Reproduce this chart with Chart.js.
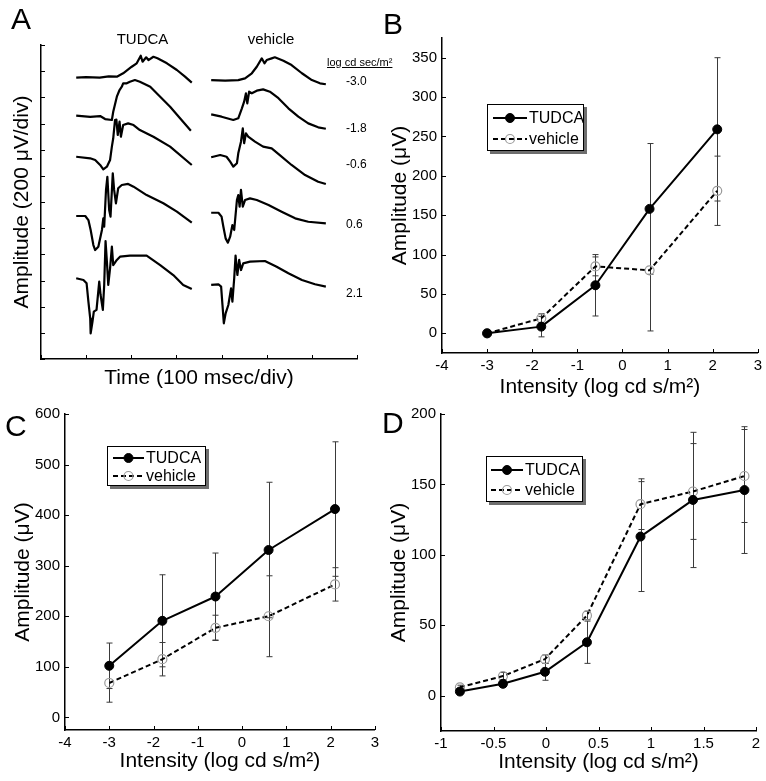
<!DOCTYPE html>
<html>
<head>
<meta charset="utf-8">
<script src="https://cdn.jsdelivr.net/npm/chart.js@4.4.1/dist/chart.umd.min.js"></script>
<style>
body { margin: 0; background: #fff; }
#page { position: relative; width: 766px; height: 781px; overflow: hidden; font-family: "Liberation Sans", Arial, sans-serif; }
canvas { position: absolute; }
.lbl { position: absolute; white-space: nowrap; line-height: 1; color: #000; }
</style>
</head>
<body>
<div id="page">
  <canvas id="chartA" width="383" height="395" style="left:0;top:0"></canvas>
  <canvas id="chartB" width="383" height="400" style="left:383px;top:0"></canvas>
  <canvas id="chartC" width="383" height="391" style="left:0;top:390px"></canvas>
  <canvas id="chartD" width="383" height="391" style="left:383px;top:390px"></canvas>
</div>
<script>
// panel A: ERG traces, [time ms, amplitude µV] (stacked, 200 µV/div)
const traceIntensities = ['-3.0', '-1.8', '-0.6', '0.6', '2.1']
const tudcaTraces = [
    [[78,2150],[100,2155],[130,2150],[150,2160],[168,2158],[182,2184],[201,2234],[212,2260],[221,2318],[225,2272],[233,2306],[238,2285],[249,2310],[258,2298],[279,2260],[301,2209],[319,2158],[334,2112]],
    [[78,1860],[109,1850],[131,1857],[142,1834],[157,1827],[160,1890],[168,2005],[174,2056],[179,2081],[182,2107],[190,2107],[197,2119],[208,2132],[219,2119],[242,2081],[264,2005],[286,1928],[308,1840],[332,1745]],
    [[78,1546],[109,1534],[120,1521],[131,1483],[138,1450],[146,1470],[153,1521],[157,1623],[160,1687],[164,1827],[167,1830],[170,1712],[174,1814],[177,1699],[182,1788],[193,1801],[205,1788],[219,1750],[249,1699],[286,1623],[334,1483]],
    [[78,1093],[98,1093],[105,1062],[110,986],[116,871],[120,833],[127,858],[135,986],[138,1075],[140,1011],[144,1292],[147,1393],[151,1139],[154,1088],[159,1419],[162,1292],[166,1190],[171,1305],[179,1330],[193,1338],[205,1317],[234,1253],[271,1190],[301,1126],[334,1042]],
    [[78,617],[94,604],[101,579],[105,438],[109,311],[110,196],[114,285],[117,362],[123,375],[129,591],[132,489],[137,375],[140,566],[143,902],[146,744],[149,566],[153,693],[157,860],[160,718],[168,757],[175,782],[197,790],[234,790],[264,718],[293,642],[315,566],[334,535]]
]
const vehicleTraces = [
    [[377,2132],[408,2127],[437,2132],[452,2145],[467,2184],[478,2234],[489,2298],[495,2260],[500,2285],[511,2298],[518,2306],[537,2280],[555,2247],[578,2184],[600,2132],[618,2107],[631,2100]],
    [[377,1870],[400,1852],[426,1827],[437,1840],[445,1916],[450,1967],[454,2031],[457,1954],[461,2043],[467,2031],[478,2051],[492,2061],[507,2043],[526,1993],[548,1916],[570,1852],[592,1801],[614,1771],[631,1760]],
    [[377,1542],[397,1559],[411,1546],[419,1508],[426,1470],[434,1496],[437,1572],[443,1661],[447,1763],[450,1649],[454,1725],[459,1699],[474,1661],[492,1623],[511,1610],[529,1559],[555,1483],[585,1406],[614,1355],[631,1338]],
    [[377,1118],[393,1118],[400,1088],[404,1011],[409,922],[414,889],[419,935],[424,1024],[428,986],[434,1215],[437,1253],[440,1164],[443,1292],[447,1164],[452,1215],[463,1228],[478,1215],[504,1177],[533,1126],[563,1075],[592,1049],[631,1037]],
    [[377,566],[393,571],[399,553],[402,413],[405,273],[409,349],[415,413],[421,540],[424,438],[428,617],[431,791],[435,642],[439,757],[443,680],[448,731],[463,744],[496,749],[522,705],[548,655],[578,604],[607,571],[631,553]]
]
const ticksA_x = [0, 100, 200, 300, 400, 500, 600, 700]
const ticksA_y = [0, 200, 400, 600, 800, 1000, 1200, 1400, 1600, 1800, 2000, 2200, 2400]

// panels B and C: intensity (log cd s/m2) vs amplitude (µV)
const intensityBC = [-3, -1.8, -0.6, 0.6, 2.1]
const tudcaB = [0, 8.5, 61, 158, 259]
const tudcaBErr = [2, 13, 39, 83, 91]
const vehicleB = [0, 19, 85, 80, 181]
const vehicleBErr = [2, 6, 12, 77, 44]
const tudcaC = [102, 191, 239, 331, 412]
const tudcaCErr = [45, 91, 86, 134, 133]
const vehicleC = [68, 115, 177, 200, 263]
const vehicleCErr = [38, 33, 25, 80, 33]

// panel D
const intensityD = [-0.82, -0.41, -0.01, 0.39, 0.9, 1.4, 1.89]
const tudcaD = [3, 8.5, 17, 38, 113, 139, 146]
const tudcaDErr = [1.5, 2, 6, 15, 39, 48, 45]
const vehicleD = [6, 14, 26, 57, 136, 145, 156]
const vehicleDErr = [1.5, 2.5, 3, 3, 18, 34, 33]

const ticksBC_x = [-4, -3, -2, -1, 0, 1, 2, 3]
const ticksB_y = [0, 50, 100, 150, 200, 250, 300, 350]
const ticksC_y = [0, 100, 200, 300, 400, 500, 600]
const ticksD_x = [-1, -0.5, 0, 0.5, 1, 1.5, 2]
const ticksD_y = [0, 50, 100, 150, 200]

const FONT = '"Liberation Sans", Arial, sans-serif'
Chart.defaults.font.family = FONT
Chart.defaults.color = '#000'

// error bars drawn behind the markers
const errorBars = {
    id: 'errorBars',
    beforeDatasetsDraw(chart) {
        const ctx = chart.ctx
        const xs = chart.scales.x, ys = chart.scales.y
        chart.data.datasets.forEach(ds => {
            if (!ds.errors) return
            ctx.save()
            ctx.strokeStyle = '#3a3a3a'
            ctx.lineWidth = 1
            ds.data.forEach((p, i) => {
                const px = Math.round(xs.getPixelForValue(p.x)) + 0.5
                const top = ys.getPixelForValue(p.y + ds.errors[i])
                const bot = ys.getPixelForValue(p.y - ds.errors[i])
                ctx.beginPath()
                ctx.moveTo(px, top); ctx.lineTo(px, bot)
                ctx.moveTo(px - 3, top); ctx.lineTo(px + 3, top)
                ctx.moveTo(px - 3, bot); ctx.lineTo(px + 3, bot)
                ctx.stroke()
            })
            ctx.restore()
        })
    }
}

// matlab style ticks pointing into the plot
const innerTicks = {
    id: 'innerTicks',
    afterDraw(chart) {
        const ctx = chart.ctx, area = chart.chartArea
        const xs = chart.scales.x, ys = chart.scales.y
        ctx.save()
        ctx.strokeStyle = '#000'
        ctx.lineWidth = 1
        ctx.beginPath()
        xs.ticks.forEach(t => {
            const px = Math.round(xs.getPixelForValue(t.value)) + 0.5
            ctx.moveTo(px, area.bottom); ctx.lineTo(px, area.bottom - 4)
        })
        ys.ticks.forEach(t => {
            const py = Math.round(ys.getPixelForValue(t.value)) + 0.5
            ctx.moveTo(area.left, py); ctx.lineTo(area.left + 4, py)
        })
        ctx.stroke()
        ctx.restore()
    }
}

// boxed legend with shadow
const boxLegend = {
    id: 'boxLegend',
    afterDraw(chart, args, opts) {
        if (!opts.width) return
        const ctx = chart.ctx
        const {left, top, width, height, rows, lineStart, lineEnd} = opts
        ctx.save()
        ctx.fillStyle = '#6e6e6e'
        ctx.fillRect(left + 3, top + 3, width, height)
        ctx.fillStyle = '#fff'
        ctx.fillRect(left, top, width, height)
        ctx.strokeStyle = '#000'
        ctx.lineWidth = 1
        ctx.strokeRect(left + 0.5, top + 0.5, width - 1, height - 1)
        chart.data.datasets.forEach((ds, i) => {
            const ly = top + rows[i]
            const x0 = left + lineStart, x1 = left + lineEnd
            ctx.strokeStyle = ds.borderColor
            ctx.lineWidth = ds.borderWidth
            ctx.setLineDash(ds.borderDash || [])
            ctx.beginPath(); ctx.moveTo(x0, ly); ctx.lineTo(x1, ly); ctx.stroke()
            ctx.setLineDash([])
            ctx.beginPath()
            ctx.arc((x0 + x1) / 2, ly, ds.pointRadius, 0, Math.PI * 2)
            ctx.fillStyle = ds.pointBackgroundColor
            ctx.fill()
            ctx.strokeStyle = ds.pointBorderColor
            ctx.lineWidth = ds.pointBorderWidth
            ctx.stroke()
            ctx.fillStyle = '#000'
            ctx.font = '16px ' + FONT
            ctx.textBaseline = 'middle'
            ctx.fillText(ds.label, x1 + 2, ly + 1)
        })
        ctx.restore()
    }
}

function scaleOpts(min, max, ticks, title, size, titlePad, showLabels, horizontal) {
    return {
        type: 'linear',
        min, max,
        afterBuildTicks: s => { s.ticks = ticks.map(v => ({value: v})) },
        afterFit: s => { if (horizontal) s.height = size; else s.width = size },
        grid: {display: false, drawTicks: false},
        border: {display: true, color: '#000', width: 1.5},
        ticks: {display: showLabels, padding: horizontal ? 4 : 5, font: {size: 15}, color: '#000',
            callback: v => String(v)},
        title: {display: true, text: title, font: {size: 21}, color: '#000',
            padding: horizontal ? {top: 0, bottom: titlePad} : {top: titlePad, bottom: 0}}
    }
}

function pairs(xs, ys) {
    return xs.map((x, i) => ({x, y: ys[i]}))
}

function seriesSets(xs, tudca, tudcaErr, vehicle, vehicleErr) {
    return [{
        label: 'TUDCA', data: pairs(xs, tudca), errors: tudcaErr,
        borderColor: '#000', borderWidth: 2, pointRadius: 4.5,
        pointBackgroundColor: '#000', pointBorderColor: '#000', pointBorderWidth: 1
    }, {
        label: 'vehicle', data: pairs(xs, vehicle), errors: vehicleErr,
        borderColor: '#000', borderWidth: 2, borderDash: [5, 3], pointRadius: 4.5,
        pointBackgroundColor: 'rgba(0,0,0,0)', pointBorderColor: '#9a9a9a', pointBorderWidth: 1.2
    }]
}

function buildChart(id, datasets, cfg) {
    new Chart(document.getElementById(id), {
        type: 'line',
        data: {datasets},
        options: {
            responsive: false,
            animation: false,
            layout: {padding: cfg.padding},
            elements: {line: {tension: 0, borderJoinStyle: 'round'}},
            scales: {x: cfg.x, y: cfg.y},
            plugins: {legend: {display: false}, tooltip: {enabled: false}, boxLegend: cfg.legend || {}}
        },
        plugins: [errorBars, innerTicks, boxLegend]
    })
}

function traceSets() {
    return tudcaTraces.concat(vehicleTraces).map(tr => ({
        data: tr.map(([x, y]) => ({x, y})),
        borderColor: '#000', borderWidth: 2.2, pointRadius: 0
    }))
}

function addLabel(text, left, cy, size, extra) {
    const d = document.createElement('div')
    d.className = 'lbl'
    d.textContent = text
    d.style.fontSize = size + 'px'
    d.style.left = left + 'px'
    d.style.top = (cy - 0.49 * size) + 'px'
    Object.assign(d.style, extra || {})
    document.getElementById('page').appendChild(d)
    return d
}

window.addEventListener('load', () => {
    try {
        buildChart('chartA', traceSets(), {
            padding: {left: 0, top: 45, right: 26, bottom: 0},
            x: scaleOpts(0, 700, ticksA_x, 'Time (100 msec/div)', 36, 4.4, false, true),
            y: scaleOpts(0, 2400, ticksA_y, 'Amplitude (200 μV/div)', 41, 9.4, false, false)
        })
        buildChart('chartB', seriesSets(intensityBC, tudcaB, tudcaBErr, vehicleB, vehicleBErr), {
            padding: {left: 0, top: 38, right: 8, bottom: 0},
            x: scaleOpts(-4, 3, ticksBC_x, 'Intensity (log cd s/m²)', 47, 0.4, true, true),
            y: scaleOpts(-25, 375, ticksB_y, 'Amplitude (μV)', 59, 4.4, true, false),
            legend: {left: 104, top: 104, width: 97, height: 47, rows: [14, 35], lineStart: 6, lineEnd: 40}
        })
        buildChart('chartC', seriesSets(intensityBC, tudcaC, tudcaCErr, vehicleC, vehicleCErr), {
            padding: {left: 0, top: 24, right: 4, bottom: 0},
            x: scaleOpts(-4, 3, ticksBC_x, 'Intensity (log cd s/m²)', 51, 7.4, true, true),
            y: scaleOpts(-25, 600, ticksC_y, 'Amplitude (μV)', 65, 10.4, true, false),
            legend: {left: 107, top: 56, width: 99, height: 40, rows: [12, 30], lineStart: 6, lineEnd: 37}
        })
        buildChart('chartD', seriesSets(intensityD, tudcaD, tudcaDErr, vehicleD, vehicleDErr), {
            padding: {left: 0, top: 24, right: 10, bottom: 0},
            x: scaleOpts(-1, 2, ticksD_x, 'Intensity (log cd s/m²)', 50, 5.9, true, true),
            y: scaleOpts(-25, 200, ticksD_y, 'Amplitude (μV)', 58, 4.1, true, false),
            legend: {left: 103, top: 66, width: 97, height: 46, rows: [14, 34], lineStart: 5, lineEnd: 37}
        })

        // panel letters and panel A annotations
        addLabel('A', 11, 19, 30)
        addLabel('B', 383, 24, 30)
        addLabel('C', 5, 426, 30)
        addLabel('D', 382, 423, 30)
        addLabel('TUDCA', 142.5, 38, 15, {transform: 'translateX(-50%)'})
        addLabel('vehicle', 271, 38, 15, {transform: 'translateX(-50%)'})
        addLabel('log cd sec/m²', 327, 62, 11, {textDecoration: 'underline'})
        const labelY = [81, 128, 164, 224, 293]
        traceIntensities.forEach((t, i) => addLabel(t, 346, labelY[i], 12))
    } catch (e) {
        console.error(e)
    }
})
</script>
</body>
</html>
